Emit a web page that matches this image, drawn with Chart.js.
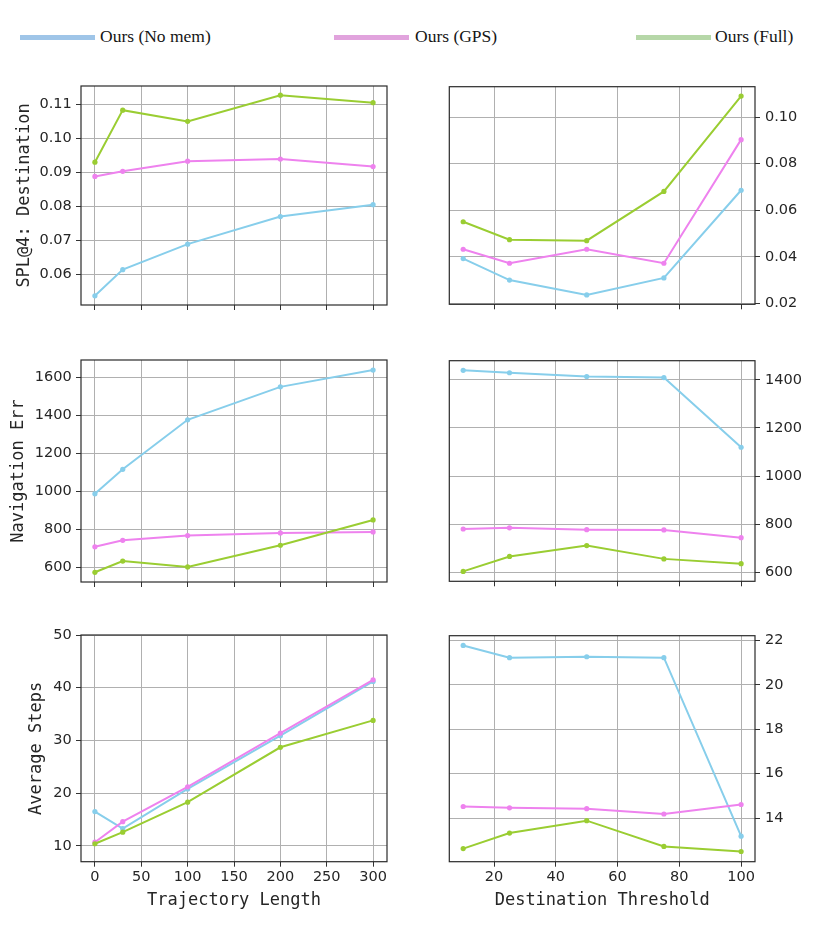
<!DOCTYPE html>
<html><head><meta charset="utf-8">
<script src="https://cdn.jsdelivr.net/npm/chart.js@4.4.1/dist/chart.umd.min.js"></script>
<style>
html,body{margin:0;padding:0;background:#fff;width:830px;height:933px;overflow:hidden;position:relative}
.panel{position:absolute}
.leg-line{position:absolute;height:5px}
.leg-text{position:absolute;font-family:"Liberation Serif",serif;font-size:17.5px;line-height:20px;color:#151515;white-space:nowrap}
</style></head><body>
<div class="leg-line" style="left:20px;top:34.5px;width:75px;background:#9fc5e8"></div>
<div class="leg-text" style="left:100px;top:25.8px" id="lg0"></div>
<div class="leg-line" style="left:334px;top:34.5px;width:75px;background:#e1a3dd"></div>
<div class="leg-text" style="left:415px;top:25.8px" id="lg1"></div>
<div class="leg-line" style="left:636px;top:34.5px;width:75px;background:#b6d7a8"></div>
<div class="leg-text" style="left:715px;top:25.8px" id="lg2"></div>

<div class="panel" style="left:0;top:73px;width:410px;height:245px"><canvas id="c1"></canvas></div>
<div class="panel" style="left:430px;top:73px;width:400px;height:245px"><canvas id="c2"></canvas></div>
<div class="panel" style="left:0;top:347px;width:410px;height:248px"><canvas id="c3"></canvas></div>
<div class="panel" style="left:430px;top:347px;width:400px;height:248px"><canvas id="c4"></canvas></div>
<div class="panel" style="left:0;top:622px;width:410px;height:300px"><canvas id="c5"></canvas></div>
<div class="panel" style="left:430px;top:622px;width:400px;height:300px"><canvas id="c6"></canvas></div>

<script>
// ---------- data ----------
const seriesNames = ['Ours (No mem)', 'Ours (GPS)', 'Ours (Full)'];
const trajectoryLengths = [0, 30, 100, 200, 300];
const destinationThresholds = [10, 25, 50, 75, 100];

const splTrajNoMem = [0.0537, 0.0614, 0.0689, 0.0770, 0.0805];
const splTrajGPS   = [0.0888, 0.0903, 0.0933, 0.0939, 0.0917];
const splTrajFull  = [0.0930, 0.1083, 0.1050, 0.1127, 0.1105];

const splThrNoMem = [0.0393, 0.0301, 0.0237, 0.0310, 0.0686];
const splThrGPS   = [0.0433, 0.0373, 0.0433, 0.0373, 0.0903];
const splThrFull  = [0.0551, 0.0474, 0.0470, 0.0681, 0.1090];

const navTrajNoMem = [987, 1116, 1376, 1549, 1637];
const navTrajGPS   = [709, 743, 768, 782, 787];
const navTrajFull  = [575, 634, 603, 717, 850];

const navThrNoMem = [1439, 1429, 1413, 1409, 1120];
const navThrGPS   = [781, 786, 778, 777, 745];
const navThrFull  = [605, 667, 712, 657, 637];

const stepsTrajNoMem = [16.5, 13.3, 20.8, 30.9, 41.2];
const stepsTrajGPS   = [10.7, 14.6, 21.2, 31.4, 41.5];
const stepsTrajFull  = [10.4, 12.6, 18.3, 28.7, 33.8];

const stepsThrNoMem = [21.78, 21.23, 21.27, 21.23, 13.18];
const stepsThrGPS   = [14.52, 14.46, 14.42, 14.18, 14.61];
const stepsThrFull  = [12.62, 13.32, 13.88, 12.72, 12.49];

// tick labels
const trajTicks = [0, 50, 100, 150, 200, 250, 300];
const thrTicks = [20, 40, 60, 80, 100];
const splTrajTicks = [0.06, 0.07, 0.08, 0.09, 0.10, 0.11];
const splThrTicks = [0.02, 0.04, 0.06, 0.08, 0.10];
const navTrajTicks = [600, 800, 1000, 1200, 1400, 1600];
const navThrTicks = [600, 800, 1000, 1200, 1400];
const stepsTrajTicks = [10, 20, 30, 40, 50];
const stepsThrTicks = [14, 16, 18, 20, 22];

const yTitles = ['SPL@4: Destination', 'Navigation Err', 'Average Steps'];
const xTitles = ['Trajectory Length', 'Destination Threshold'];

// ---------- style ----------
const lineColors = ['#87ceeb', '#ee82ee', '#9acd32'];
const tickFont = {family: 'DejaVu Sans', size: 14.5};
const titleFont = {family: 'DejaVu Sans Mono', size: 17};
const textColor = '#262626';

seriesNames.forEach((n, i) => { document.getElementById('lg' + i).textContent = n; });

const framePlugin = {
  id: 'frame',
  afterDraw(chart) {
    const {ctx, chartArea: a} = chart;
    ctx.save();
    ctx.strokeStyle = '#2a2a2a';
    ctx.lineWidth = 1.2;
    ctx.strokeRect(a.left, a.top, a.right - a.left, a.bottom - a.top);
    ctx.restore();
  }
};

function makePanel(cfg) {
  const datasets = cfg.series.map((ys, i) => ({
    label: seriesNames[i],
    data: cfg.xs.map((x, j) => ({x: x, y: ys[j]})),
    borderColor: lineColors[i],
    backgroundColor: lineColors[i],
    borderWidth: 2,
    pointRadius: 2.6,
    pointBorderWidth: 0,
    pointBackgroundColor: lineColors[i],
    tension: 0,
    order: 3 - i
  }));
  const left = cfg.col === 0;
  new Chart(document.getElementById(cfg.id), {
    type: 'line',
    data: {datasets},
    plugins: [framePlugin],
    options: {
      responsive: true, maintainAspectRatio: false, animation: false, events: [],
      layout: {autoPadding: false, padding: cfg.padding},
      plugins: {legend: {display: false}, tooltip: {enabled: false}},
      scales: {
        x: {
          type: 'linear', position: 'bottom', min: cfg.xMin, max: cfg.xMax,
          afterBuildTicks: ax => { ax.ticks = cfg.xTicks.map(v => ({value: v})); },
          afterFit: ax => { ax.height = cfg.xH; },
          ticks: {display: cfg.showX, font: tickFont, color: textColor, padding: 1.5,
                  maxRotation: 0, autoSkip: false, callback: v => String(v)},
          grid: {color: '#b0b0b0', lineWidth: 1, tickColor: '#333', tickLength: 5, drawTicks: true},
          border: {display: false},
          title: {display: cfg.showX, text: cfg.xTitle, font: titleFont, color: textColor,
                  padding: {top: 0, bottom: 11.6}}
        },
        y: {
          type: 'linear', position: left ? 'left' : 'right', min: cfg.yMin, max: cfg.yMax,
          afterBuildTicks: ax => { ax.ticks = cfg.yTicks.map(v => ({value: v})); },
          afterFit: ax => { ax.width = cfg.yW; },
          ticks: {font: tickFont, color: textColor, padding: left ? 4.3 : 5, autoSkip: false,
                  callback: cfg.fmt},
          grid: {color: '#b0b0b0', lineWidth: 1, tickColor: '#333', tickLength: 5, drawTicks: true},
          border: {display: false},
          title: {display: left, text: cfg.yTitle, font: titleFont, color: textColor,
                  padding: {top: cfg.yTitlePad || 0, bottom: 0}}
        }
      }
    }
  });
}

const fmt2 = v => v.toFixed(2);
const fmt0 = v => String(v);

// left column: canvas x 0..410, area 81..387 ; right column: canvas x 430..830, area 449.3..755
const leftPad = top => ({left: 0, right: 23, top: top, bottom: 0});
const rightPad = top => ({left: 19.3, right: 0, top: top, bottom: 0});

makePanel({id: 'c1', col: 0, xs: trajectoryLengths, series: [splTrajNoMem, splTrajGPS, splTrajFull],
  xMin: -15, xMax: 315, xTicks: trajTicks, yMin: 0.051, yMax: 0.1154, yTicks: splTrajTicks,
  fmt: fmt2, yTitle: yTitles[0], yTitlePad: 14.8, yW: 81, xH: 8, showX: false, padding: leftPad(10.3)});
makePanel({id: 'c2', col: 1, xs: destinationThresholds, series: [splThrNoMem, splThrGPS, splThrFull],
  xMin: 5.5, xMax: 104.5, xTicks: thrTicks, yMin: 0.0197, yMax: 0.113, yTicks: splThrTicks,
  fmt: fmt2, yW: 75, xH: 8, showX: false, padding: rightPad(10.3)});
makePanel({id: 'c3', col: 0, xs: trajectoryLengths, series: [navTrajNoMem, navTrajGPS, navTrajFull],
  xMin: -15, xMax: 315, xTicks: trajTicks, yMin: 524, yMax: 1690, yTicks: navTrajTicks,
  fmt: fmt0, yTitle: yTitles[1], yTitlePad: 8.6, yW: 81, xH: 8.3, showX: false, padding: leftPad(10.7)});
makePanel({id: 'c4', col: 1, xs: destinationThresholds, series: [navThrNoMem, navThrGPS, navThrFull],
  xMin: 5.5, xMax: 104.5, xTicks: thrTicks, yMin: 564, yMax: 1479, yTicks: navThrTicks,
  fmt: fmt0, yW: 75, xH: 8.3, showX: false, padding: rightPad(10.7)});
makePanel({id: 'c5', col: 0, xs: trajectoryLengths, series: [stepsTrajNoMem, stepsTrajGPS, stepsTrajFull],
  xMin: -15, xMax: 315, xTicks: trajTicks, yMin: 7.0, yMax: 50, yTicks: stepsTrajTicks,
  fmt: fmt0, yTitle: yTitles[2], yTitlePad: 26.5, yW: 81, xH: 60.3, showX: true, xTitle: xTitles[0],
  padding: leftPad(10.7)});
makePanel({id: 'c6', col: 1, xs: destinationThresholds, series: [stepsThrNoMem, stepsThrGPS, stepsThrFull],
  xMin: 5.5, xMax: 104.5, xTicks: thrTicks, yMin: 12.03, yMax: 22.22, yTicks: stepsThrTicks,
  fmt: fmt0, yW: 75, xH: 60.3, showX: true, xTitle: xTitles[1], padding: rightPad(10.7)});
</script>
</body></html>
